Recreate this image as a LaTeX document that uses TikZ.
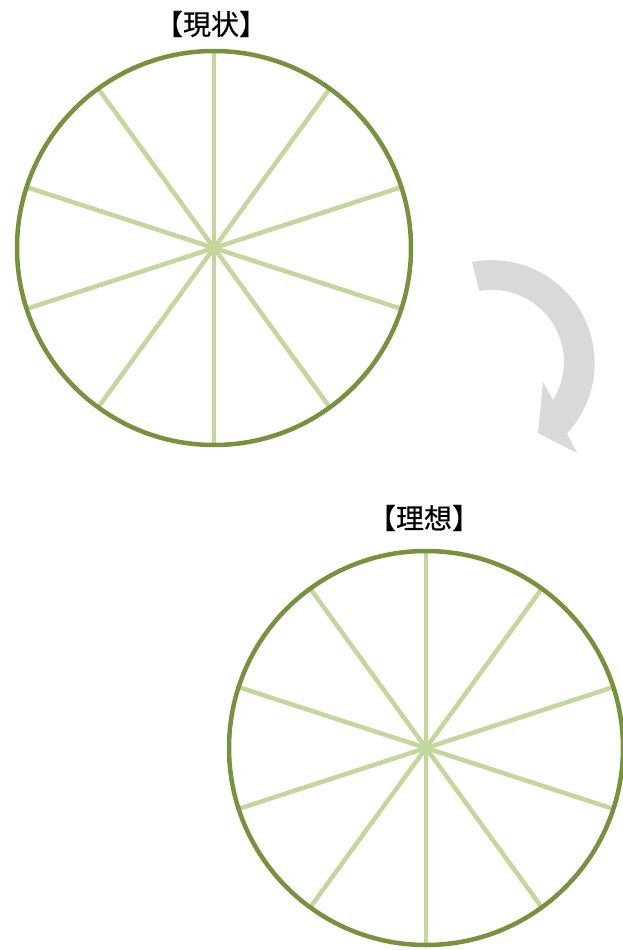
\documentclass[tikz,border=0pt]{standalone}
\usepackage{fontspec}
\usetikzlibrary{calc}
\newfontfamily\cjk[FakeBold=0.5]{Noto Sans CJK JP}
\definecolor{rimgreen}{HTML}{76923C}
\definecolor{spokegreen}{HTML}{C3D69B}
\definecolor{arrowgray}{HTML}{D9D9D9}
\begin{document}
\begin{tikzpicture}[x=1pt,y=-1pt,
  rim/.style={draw=rimgreen,line width=4.5pt},
  spoke/.style={draw=spokegreen,line width=4.5pt},
  lbl/.style={font=\cjk\fontsize{28}{32}\selectfont,inner sep=0pt}]
\useasboundingbox (0,0) rectangle (623,950);
% top wheel
\coordinate (c1) at (214,248);
\foreach \a in {18,54,...,162}{
  \draw[spoke] ($(c1)+(\a:196)$) -- ($(c1)+(\a+180:196)$);
}
\draw[rim] (c1) circle[radius=197];
\node[lbl] (t1) at (211,24) {【現状】};
% bottom wheel
\coordinate (c2) at (426,748);
\foreach \a in {18,54,...,162}{
  \draw[spoke] ($(c2)+(\a:196)$) -- ($(c2)+(\a+180:196)$);
}
\draw[rim] (c2) circle[radius=197];
\node[lbl] (t2) at (424,518) {【理想】};
% curved arrow
\fill[arrowgray] (472,262) arc[start angle=-101, end angle=43, radius=103]
  -- (577,453) -- (538,433) -- (543,382) -- (553,400)
  arc[start angle=32, end angle=-100, radius=72] -- cycle;
\end{tikzpicture}
\end{document}
